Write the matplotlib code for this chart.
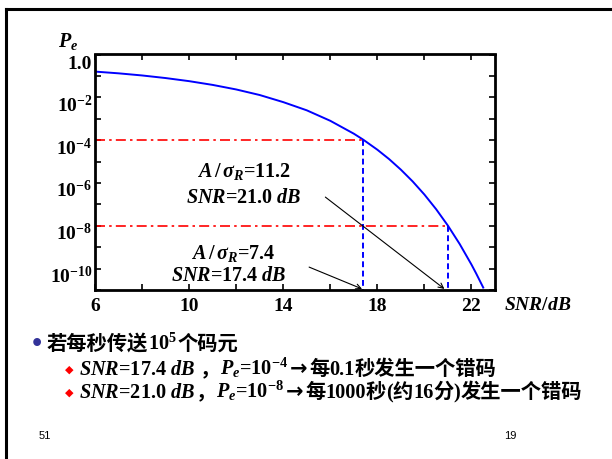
import matplotlib
matplotlib.use('Agg')
import matplotlib.pyplot as plt
import matplotlib.transforms as mtransforms
from matplotlib.lines import Line2D
from matplotlib.ticker import NullLocator

plt.rcParams['mathtext.fontset'] = 'custom'
plt.rcParams['mathtext.rm'] = 'Liberation Serif:bold'
plt.rcParams['mathtext.it'] = 'Liberation Serif:italic:bold'
plt.rcParams['mathtext.bf'] = 'Liberation Serif:bold'
plt.rcParams['font.family'] = ['Liberation Serif', 'DejaVu Sans']
plt.rcParams['font.weight'] = 'bold'

# Pe vs SNR(dB)
snr = [6, 7, 8, 9, 10, 11, 12, 13, 14, 15, 16, 17, 17.4, 18, 18.5, 19,
       19.5, 20, 20.5, 21, 21.5, 22, 22.2, 22.5]
pe = [0.159, 0.132, 0.105, 0.0794, 0.0569, 0.0380, 0.0233, 0.0128, 0.00597,
      0.00247, 8.0e-4, 2.0e-4, 1.05e-4, 3.57e-5, 1.30e-5, 4.17e-6, 1.18e-6,
      2.87e-7, 5.9e-8, 1.01e-8, 1.40e-9, 1.54e-10, 5.9e-11, 1.30e-11]

snr_mark = [17.4, 21.0]
pe_mark = [1e-4, 1e-8]
ratio = ['7.4', '11.2']

xticks = [6, 8, 10, 12, 14, 16, 18, 20, 22]
xlabels = ['6', '', '10', '', '14', '', '18', '', '22']
yticks = [10.0 ** -k for k in range(0, 12)]
ylabels = ['1.0', '', '$10^{-2}$', '', '$10^{-4}$', '', '$10^{-6}$', '',
           '$10^{-8}$', '', '$10^{-10}$', '']

W, H = 612, 459
fig = plt.figure(figsize=(6.12, 4.59), dpi=100)


def fx(px):
    return px / W


def fy(py):
    return 1 - py / H


ax = fig.add_axes([fx(95), fy(290), fx(495) - fx(95), fy(54.5) - fy(290)])
ax.set_yscale('log')
ax.plot(snr, pe, color='blue', lw=1.4)
for s, p in zip(snr_mark, pe_mark):
    ax.plot([6, s], [p, p], color='red', lw=1.2, ls=(0, (6, 2.5, 1.5, 2.5)))
    ax.plot([s, s], [p, 1e-11], color='blue', lw=1.4, ls=(0, (3, 1.8)))
ax.set_xlim(6, 23)
ax.set_ylim(1e-11, 1)
ax.set_xticks(xticks)
ax.set_xticklabels(xlabels)
ax.set_yticks(yticks)
ax.set_yticklabels(ylabels)
ax.yaxis.set_minor_locator(NullLocator())
ax.tick_params(direction='in', top=True, right=True, length=4, width=1.2,
               labelsize=14)
ax.tick_params(axis='x', pad=6)
ax.tick_params(axis='y', pad=2)
for sp in ax.spines.values():
    sp.set_linewidth(2)

# y labels sit a little below their ticks in the original
for i, tk in enumerate(ax.yaxis.get_major_ticks()):
    dy = 8 if i == 0 else 6
    off = mtransforms.ScaledTranslation(0, -dy / 100, fig.dpi_scale_trans)
    tk.label1.set_transform(tk.label1.get_transform() + off)

# arrows from the labels to the SNR values
arr = dict(arrowstyle='->', color='black', lw=0.8, shrinkA=0, shrinkB=0,
           mutation_scale=9)
ax.annotate('', xy=(snr_mark[1] - 0.15, 10 ** -10.95),
            xytext=(15.79, 10 ** -6.66), arrowprops=arr)
ax.annotate('', xy=(snr_mark[0] - 0.05, 10 ** -10.95),
            xytext=(15.1, 10 ** -9.93), arrowprops=arr)

fig.text(fx(244), fy(177), r'$A\,/\,\sigma_R$=' + ratio[1], ha='center',
         va='baseline', fontsize=14.5)
fig.text(fx(244), fy(203), r'$SNR$=%.1f $dB$' % snr_mark[1], ha='center',
         va='baseline', fontsize=14.5)
fig.text(fx(233), fy(259), r'$A\,/\,\sigma_R$=' + ratio[0], ha='center',
         va='baseline', fontsize=14.5)
fig.text(fx(229), fy(281), r'$SNR$=%.1f $dB$' % snr_mark[0], ha='center',
         va='baseline', fontsize=14.5)

fig.text(fx(504), fy(310), r'$SNR/dB$', ha='left', va='baseline', fontsize=14)
fig.text(fx(58), fy(47), r'$P_e$', ha='left', va='baseline', fontsize=14.5)

# slide frame
fig.add_artist(Line2D([fx(6), fx(6)], [fy(9), 0], color='black', lw=2.2))
fig.add_artist(Line2D([fx(6), 1], [fy(9), fy(9)], color='black', lw=2.2))

# bullet text
renderer = fig.canvas.get_renderer()
cjk = dict(family=['Noto Sans CJK SC'], weight='bold', fontsize=14.6)
lat = dict(family=['Liberation Serif', 'DejaVu Sans'], weight='bold',
           fontsize=14.6)
arw = dict(family=['DejaVu Sans'], weight='bold', fontsize=15)


def runs(x, y, parts):
    x = fx(x)
    for s, kind in parts:
        if kind == 'gap':
            x += fx(s)
            continue
        kw = {'c': cjk, 'l': lat, 'a': arw}[kind]
        t = fig.text(x, fy(y), s, ha='left', va='baseline', **kw)
        bb = t.get_window_extent(renderer=renderer)
        x += bb.width / W


fig.text(fx(37), fy(344), '•', color='#333399', fontsize=16,
         family='DejaVu Sans', ha='center', va='center')
runs(47, 350, [('若每秒传送', 'c'), ('10$^{5}$', 'l'), ('个码元', 'c')])

for yy in (370, 393):
    fig.text(fx(69), fy(yy), '◆', color='red', fontsize=8,
             family='DejaVu Sans', ha='center', va='center')
runs(79, 375, [(r'$SNR$=17.4 $dB$', 'l'), (4, 'gap'), ('，', 'c'),
               (r'$P_e$=10$^{-4}$', 'l'), (2, 'gap'), ('→', 'a'), (2, 'gap'),
               ('每', 'c'), ('0.1', 'l'), ('秒发生一个错码', 'c')])
runs(79, 398, [(r'$SNR$=21.0 $dB$', 'l'), ('，', 'c'),
               (r'$P_e$=10$^{-8}$', 'l'), (2, 'gap'), ('→', 'a'), (2, 'gap'),
               ('每', 'c'), ('1000', 'l'), ('秒', 'c'), ('(', 'l'), ('约', 'c'),
               ('16', 'l'), ('分', 'c'), (')', 'l'), ('发生一个错码', 'c')])

fig.text(fx(45), fy(436), '51', family='Liberation Sans', weight='normal',
         fontsize=8, ha='center', va='center')
fig.text(fx(510), fy(436), '19', family='Liberation Sans', weight='normal',
         fontsize=8, ha='center', va='center')

fig.savefig('out.png', dpi=100)
